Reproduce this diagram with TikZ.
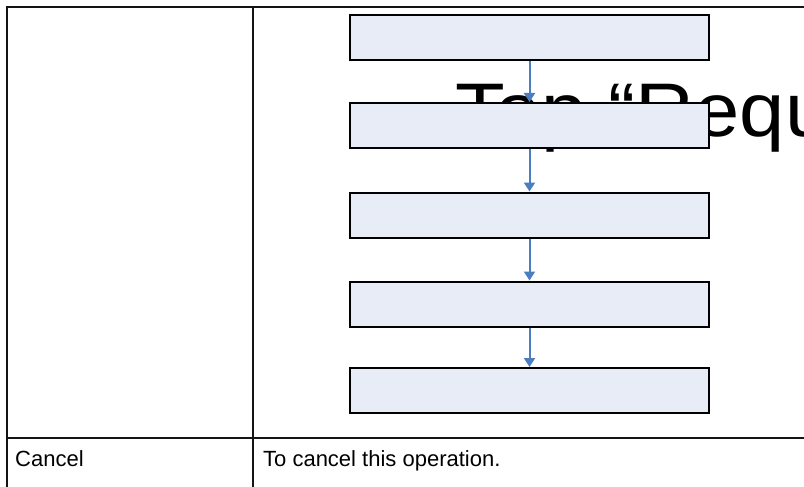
\documentclass[tikz,border=0pt]{standalone}
\usepackage{fontspec}
\setmainfont{Liberation Sans}
\usepackage{tikz}
\usetikzlibrary{arrows.meta, positioning}
\definecolor{boxfill}{RGB}{232,236,246}
\definecolor{flowblue}{RGB}{74,126,193}
\definecolor{rulegray}{RGB}{20,20,20}
\tikzset{
  stepbox/.style={rectangle, draw=black, fill=boxfill,
    minimum width=359pt, minimum height=45pt, line width=2pt, inner sep=0pt},
  flowarrow/.style={-{Triangle[width=11pt,length=9pt]}, line width=2pt, color=flowblue},
  rule/.style={line width=1.5pt, color=rulegray},
  celltext/.style={font=\fontsize{22}{26}\selectfont, anchor=base west, inner sep=0pt},
  bigtext/.style={font=\fontsize{76}{80}\selectfont, anchor=base west, inner sep=0pt}
}

\begin{document}
\begin{tikzpicture}[x=1pt, y=1pt]
  \useasboundingbox (0,0) rectangle (804,-487);
  \clip (0,0) rectangle (804,-487);
  % table rules
  \draw[rule] (7,-487) -- (7,-7) -- (804,-7);
  \draw[rule] (253,-7) -- (253,-487);
  \draw[rule] (7,-438) -- (804,-438);
  % title behind the boxes
  \node[bigtext] (title) at (455,-136) {\scalebox{1.07}[1]{Top “Requ}};
  % flow boxes
  \foreach \i/\y in {1/37.5, 2/125.5, 3/215, 4/304, 5/390.5}
    \node[stepbox] (s\i) at (529.5,-\y) {};
  \foreach \a/\b in {s1/s2, s2/s3, s3/s4, s4/s5}
    \draw[flowarrow] (\a) -- (\b);
  % last row
  \node[celltext] (cancel) at (15,-466.5) {Cancel};
  \node[celltext] (cancelnote) at (263,-466.5) {To cancel this operation.};
\end{tikzpicture}
\end{document}
